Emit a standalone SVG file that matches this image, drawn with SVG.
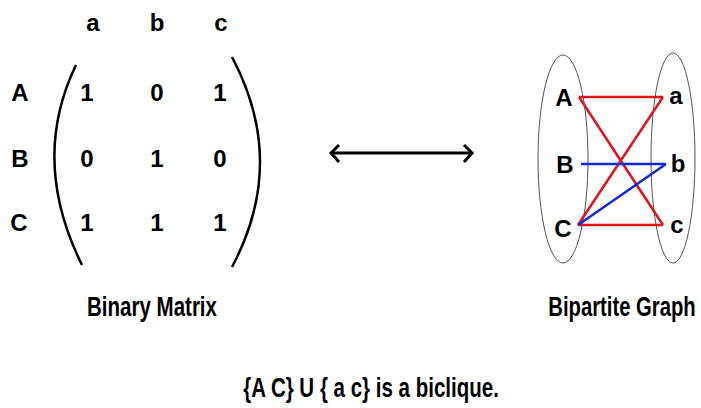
<svg xmlns="http://www.w3.org/2000/svg" width="701" height="408" viewBox="0 0 701 408">
<style>
text{font-family:"Liberation Sans",Arial,sans-serif;font-weight:bold;font-size:24px;fill:#000;text-anchor:middle}
.lbl{font-size:27px}
.paren{fill:none;stroke:#000;stroke-width:2.5}
.ell{fill:none;stroke:#555;stroke-width:1}
.red{stroke:#e0141e;stroke-width:2.5;fill:none}
.blue{stroke:#1428d8;stroke-width:2.5;fill:none}
</style>
<rect width="701" height="408" fill="#fff"/>
<g id="matrix">
<text x="93" y="31">a</text><text x="157" y="31">b</text><text x="221" y="31">c</text>
<text x="20" y="101">A</text><text x="20" y="167">B</text><text x="19" y="231">C</text>
<text x="87" y="101">1</text><text x="157" y="101">0</text><text x="220" y="101">1</text>
<text x="87" y="167">0</text><text x="157" y="167">1</text><text x="220" y="167">0</text>
<text x="87" y="231">1</text><text x="157" y="231">1</text><text x="220" y="231">1</text>
<path class="paren" d="M76,65 Q30,160 82,265"/>
<path class="paren" d="M232,57 Q288,162 232,267"/>
<text class="lbl" transform="translate(152,316) scale(0.76,1)">Binary Matrix</text>
</g>
<g id="connectors">
<line x1="331" y1="153" x2="472" y2="153" stroke="#000" stroke-width="3"/>
<polyline points="339,145 331,153 339,162" fill="none" stroke="#000" stroke-width="3"/>
<polyline points="464,145 472,153 464,162" fill="none" stroke="#000" stroke-width="3"/>
</g>
<g id="graph">
<ellipse class="ell" cx="563" cy="159" rx="25" ry="104"/>
<ellipse class="ell" cx="673" cy="158" rx="22" ry="105"/>
<line class="red" x1="579" y1="97" x2="663" y2="97"/>
<line class="red" x1="579" y1="97" x2="663" y2="225"/>
<line class="red" x1="578" y1="225" x2="663" y2="97"/>
<line class="red" x1="578" y1="225" x2="663" y2="225"/>
<line class="blue" x1="581" y1="164" x2="666" y2="164"/>
<line class="blue" x1="578" y1="225" x2="666" y2="164"/>
<text x="564" y="106">A</text><text x="565" y="173">B</text><text x="563" y="237">C</text>
<text x="676" y="104">a</text><text x="678" y="172">b</text><text x="677" y="233">c</text>
<text class="lbl" transform="translate(622,316) scale(0.75,1)">Bipartite Graph</text>
</g>
<text class="lbl" transform="translate(371,397) scale(0.76,1)">{A C} U { a c} is a biclique.</text>
</svg>
